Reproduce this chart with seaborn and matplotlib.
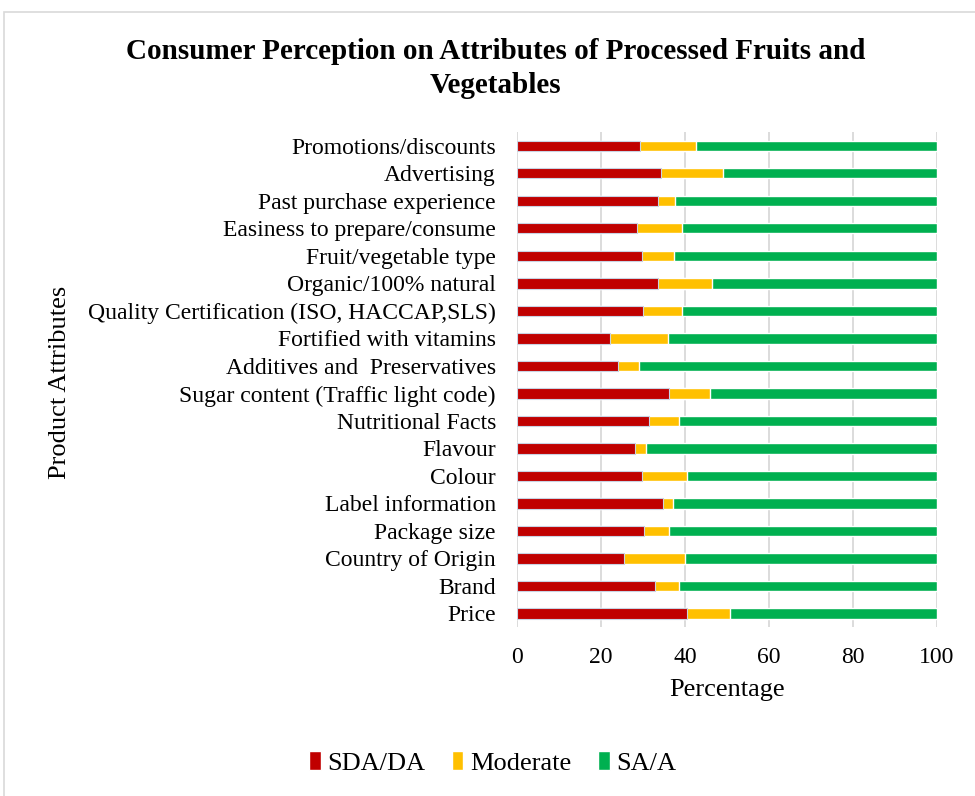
import seaborn as sns
import matplotlib.pyplot as plt
import pandas as pd
from matplotlib.patches import Rectangle, Patch

# Atributos (de cima para baixo) e percentagens
atributos = [
    "Promotions/discounts", "Advertising", "Past purchase experience",
    "Easiness to prepare/consume", "Fruit/vegetable type", "Organic/100% natural",
    "Quality Certification (ISO, HACCAP,SLS)", "Fortified with vitamins",
    "Additives and  Preservatives", "Sugar content (Traffic light code)",
    "Nutritional Facts", "Flavour", "Colour", "Label information",
    "Package size", "Country of Origin", "Brand", "Price",
]
sda_da = [29.3, 34.4, 33.6, 28.6, 29.8, 33.7, 30.1, 22.3, 24.1,
          36.3, 31.5, 28.1, 29.7, 34.7, 30.2, 25.5, 32.8, 40.5]
moderate = [13.3, 14.6, 4.1, 10.8, 7.7, 12.8, 9.3, 13.7, 5.1,
            9.8, 7.2, 2.7, 10.7, 2.6, 6.1, 14.5, 5.9, 10.3]
sa_a = [round(100 - a - b, 1) for a, b in zip(sda_da, moderate)]

cores = {"SDA/DA": "#C00000", "Moderate": "#FFC000", "SA/A": "#00B050"}

dados = pd.DataFrame({"atributo": atributos, "sda": sda_da, "mod": moderate, "sa": sa_a})
dados["cum_mod"] = dados["sda"] + dados["mod"]
dados["cum_sa"] = dados["cum_mod"] + dados["sa"]

sns.set_theme(style="white")
plt.rcParams['font.family'] = ['Liberation Serif', 'DejaVu Serif']
plt.rcParams['text.color'] = 'black'

fig = plt.figure(figsize=(9.75, 7.96), dpi=100)
ax = fig.add_axes([0.53, 0.212, 0.431, 0.622])

# barras empilhadas: desenha do total para o início
sns.barplot(data=dados, x="cum_sa", y="atributo", color=cores["SA/A"], orient="h",
            width=0.37, ax=ax, saturation=1, zorder=3)
sns.barplot(data=dados, x="cum_mod", y="atributo", color=cores["Moderate"], orient="h",
            width=0.37, ax=ax, saturation=1, zorder=3)
sns.barplot(data=dados, x="sda", y="atributo", color=cores["SDA/DA"], orient="h",
            width=0.37, ax=ax, saturation=1, zorder=3, edgecolor="#c9d3e3", linewidth=0.8)

ax.set_xlim(0, 100)
ax.set_xticks(range(0, 101, 20))
ax.grid(axis="x", color="#d9d9d9", linewidth=1.3, zorder=0)
for s in ["top", "right", "bottom", "left"]:
    ax.spines[s].set_visible(False)
ax.tick_params(axis="y", labelsize=17, length=0, pad=15, labelcolor="black")
ax.tick_params(axis="x", labelsize=17, length=0, pad=14, labelcolor="black")
ax.set_xlabel("Percentage", fontsize=19, labelpad=8, color="black")
ax.set_ylabel("")
fig.text(0.062, 0.52, "Product Attributes", rotation=90, fontsize=19,
         ha="center", va="center", color="black")

fig.text(0.508, 0.914, "Consumer Perception on Attributes of Processed Fruits and\nVegetables",
         ha="center", va="center", fontsize=21, fontweight="bold", linespacing=1.3,
         color="black")

handles = [Patch(facecolor=c, label=k) for k, c in cores.items()]
fig.legend(handles=handles, loc="center", bbox_to_anchor=(0.505, 0.042), ncol=3,
           frameon=False, fontsize=19, handlelength=0.45, handleheight=0.75,
           handletextpad=0.25, columnspacing=1.0, labelcolor="black")

fig.patches.append(Rectangle((0.004, -0.01), 1.0, 0.995, transform=fig.transFigure,
                             fill=False, edgecolor="#d9d9d9", linewidth=1.2))

plt.savefig("out.png", dpi=100)
